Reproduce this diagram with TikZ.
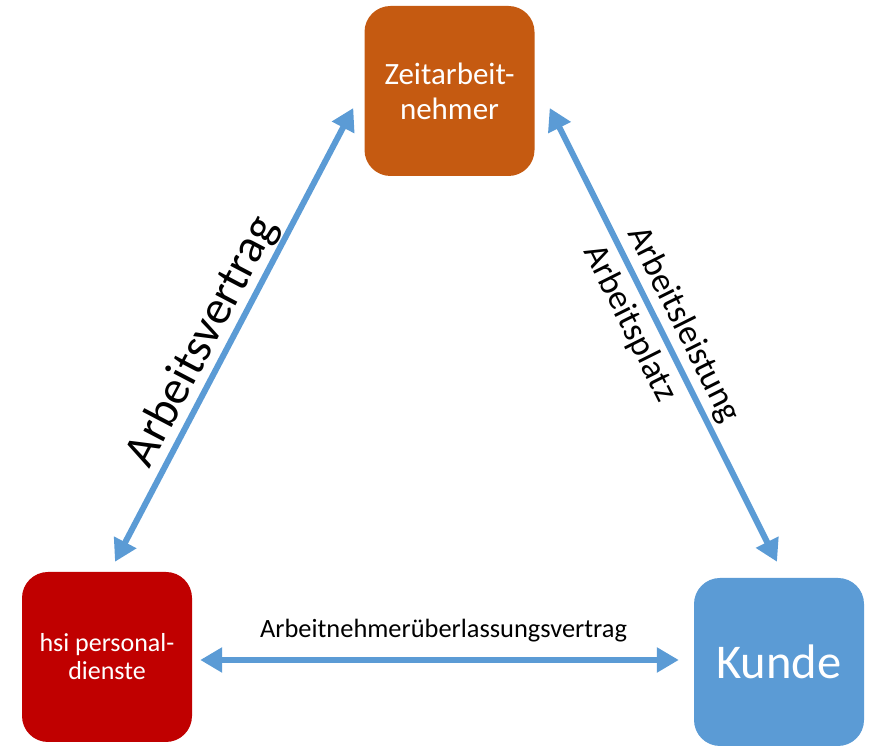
\documentclass[tikz,border=0pt]{standalone}
\usepackage{fontspec}
\setmainfont{Carlito}
\usepackage{tikz}
\usetikzlibrary{calc}
\usetikzlibrary{arrows.meta,positioning}
\definecolor{orangebox}{HTML}{C55A11}
\definecolor{redbox}{HTML}{C00000}
\definecolor{bluebox}{HTML}{5B9BD5}
\definecolor{arrowblue}{HTML}{5B9BD5}
\newcommand{\fs}[2]{\fontsize{#1}{#2}\selectfont}

\begin{document}
\begin{tikzpicture}[x=1pt,y=1pt,
		box/.style={rectangle,rounded corners=26pt,minimum width=170pt,minimum height=170pt,
			text=white,align=center,inner sep=0pt},
		arr/.style={arrowblue,line width=6pt,
			{Triangle[width=24pt,length=22pt]}-{Triangle[width=24pt,length=22pt]}},
		lbl/.style={inner sep=0pt,text=black}]
		\useasboundingbox (0,0) rectangle (871,746);
		\node[box,fill=orangebox,font=\fs{31}{35}] (zeit) at (449.5,655) {Zeitarbeit-\\nehmer};
		\node[box,fill=redbox,font=\fs{26}{28}] (hsi) at (107,89) {hsi personal-\\dienste};
		\node[box,fill=bluebox,minimum height=168pt,font=\fs{48.5}{52}] (kunde) at (779,84) {Kunde};
		\draw[arr] ([shift={(8,10)}]hsi.north) -- ([shift={(-11,-17)}]zeit.west)
			node[lbl,pos=0.46,sloped,above=1pt,font=\fs{47.5}{50}] (vertrag) {Arbeitsvertrag};
		\draw[arr] ([shift={(15,-17)}]zeit.east) -- ([shift={(-2,16)}]kunde.north)
			node[lbl,pos=0.5,sloped,above=4pt,font=\fs{35}{38}] (leistung) {Arbeitsleistung}
			node[lbl,pos=0.45,sloped,below=7pt,font=\fs{35}{38}] (platz) {Arbeitsplatz};
		\draw[arr] ([shift={(8,-3)}]hsi.east) -- ([shift={(-15,2)}]kunde.west)
			node[lbl,midway,above=15pt,xshift=4pt,font=\fs{26.4}{28}] (auev) {Arbeitnehmerüberlassungsvertrag};
\end{tikzpicture}
\end{document}
